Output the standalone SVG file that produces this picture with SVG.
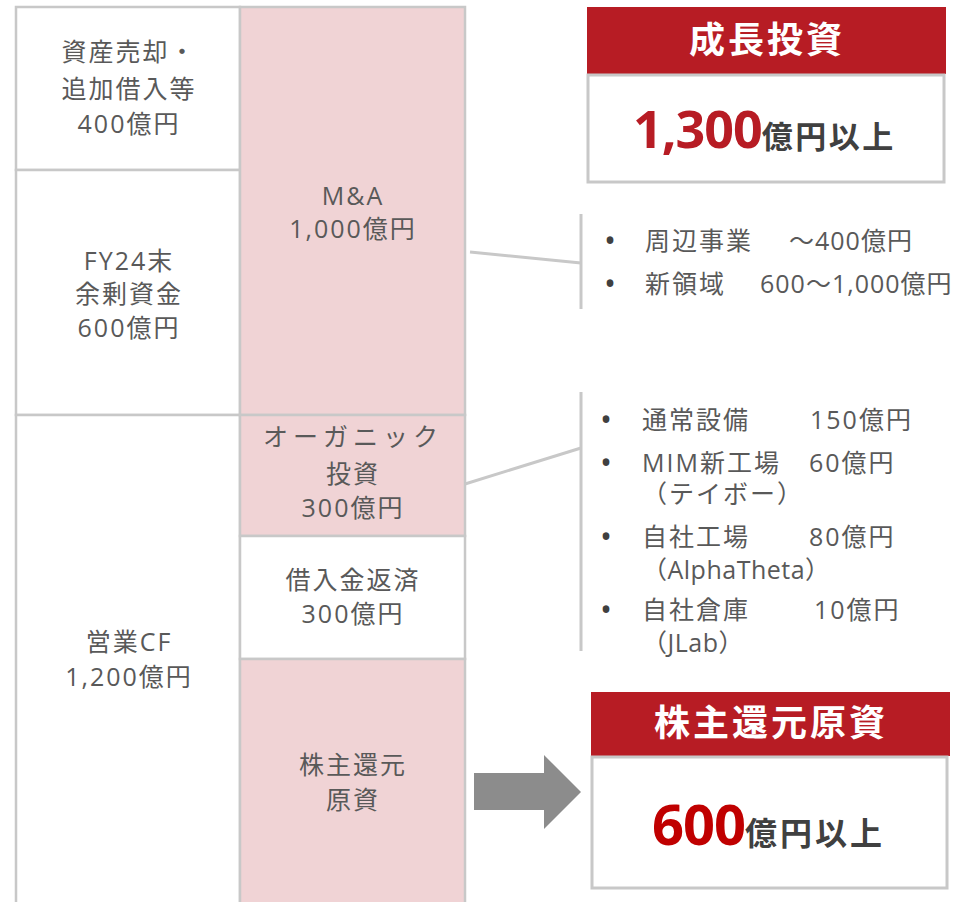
<svg xmlns="http://www.w3.org/2000/svg" width="975" height="902" viewBox="0 0 975 902">
<style>
.box{stroke:#c8c8c8;stroke-width:2.5}
.w{fill:#ffffff}
.p{fill:#f0d3d5}
.t{font-family:"Open Sans","Noto Sans CJK JP",sans-serif;font-size:25px;fill:#595959;text-anchor:middle;letter-spacing:2px}
.b{font-family:"Open Sans","Noto Sans CJK JP",sans-serif;font-size:25px;fill:#595959;letter-spacing:2px}
.dot{font-family:"Open Sans",sans-serif;font-size:32px;fill:#404040}
.hd{fill:#b71c24}
.ht{font-family:"Noto Sans CJK JP",sans-serif;font-weight:bold;font-size:36px;fill:#ffffff;text-anchor:middle;letter-spacing:3px}
.big{font-family:"Open Sans","Noto Sans CJK JP",sans-serif;font-weight:bold}
.line{stroke:#c8c8c8;stroke-width:3;fill:none}
</style>
<rect width="975" height="902" fill="#ffffff"/>
<g id="n-asset">
<rect class="box w" x="16" y="7" width="224" height="163"/>
<text class="t" x="129" y="61">資産売却・</text>
<text class="t" x="129" y="98">追加借入等</text>
<text class="t" x="129" y="133">400億円</text>
</g>
<g id="n-fy24">
<rect class="box w" x="16" y="170" width="224" height="245"/>
<text class="t" x="129" y="270">FY24末</text>
<text class="t" x="129" y="303">余剰資金</text>
<text class="t" x="129" y="337">600億円</text>
</g>
<g id="n-opcf">
<rect class="box w" x="16" y="415" width="224" height="500"/>
<text class="t" x="129" y="651">営業CF</text>
<text class="t" x="129" y="686">1,200億円</text>
</g>
<g id="n-ma">
<rect class="box p" x="240" y="7" width="225" height="408"/>
<text class="t" x="353" y="205">M&amp;A</text>
<text class="t" x="353" y="238">1,000億円</text>
</g>
<g id="n-organic">
<rect class="box p" x="240" y="415" width="225" height="121"/>
<text class="t" x="353" y="446" style="letter-spacing:5px">オーガニック</text>
<text class="t" x="353" y="483">投資</text>
<text class="t" x="353" y="517">300億円</text>
</g>
<g id="n-repay">
<rect class="box w" x="240" y="536" width="225" height="123"/>
<text class="t" x="353" y="589">借入金返済</text>
<text class="t" x="353" y="623">300億円</text>
</g>
<g id="n-return">
<rect class="box p" x="240" y="659" width="225" height="256"/>
<text class="t" x="353" y="774">株主還元</text>
<text class="t" x="353" y="809">原資</text>
</g>
<g id="n-growth">
<rect class="hd" x="587" y="7" width="359" height="67"/>
<text class="ht" x="767" y="53">成長投資</text>
<rect x="588" y="75" width="356" height="107" fill="#ffffff" stroke="#c8c8c8" stroke-width="3"/>
<text x="633" y="148" class="big"><tspan font-size="52" fill="#b71c24" letter-spacing="-1">1,300</tspan><tspan font-size="31" fill="#404040" letter-spacing="2.5" font-family="Noto Sans CJK JP, sans-serif">億円以上</tspan></text>
</g>
<g id="n-ma-detail">
<text class="dot" x="604" y="252">•</text>
<text class="b" x="645" y="250">周辺事業</text>
<text class="b" x="789" y="250" style="letter-spacing:1px">～400億円</text>
<text class="dot" x="604" y="295">•</text>
<text class="b" x="645" y="293">新領域</text>
<text class="b" x="760" y="293" style="letter-spacing:1px">600～1,000億円</text>
</g>
<g id="n-organic-detail">
<text class="dot" x="600" y="431">•</text>
<text class="b" x="642" y="429">通常設備</text>
<text class="b" x="810" y="429">150億円</text>
<text class="dot" x="600" y="474">•</text>
<text class="b" x="642" y="472">MIM新工場</text>
<text class="b" x="809" y="472">60億円</text>
<text class="b" x="642" y="503">（テイボー）</text>
<text class="dot" x="600" y="548">•</text>
<text class="b" x="642" y="546">自社工場</text>
<text class="b" x="809" y="546">80億円</text>
<text class="b" x="642" y="579" style="letter-spacing:0.5px">（AlphaTheta）</text>
<text class="dot" x="600" y="621">•</text>
<text class="b" x="642" y="619">自社倉庫</text>
<text class="b" x="814" y="619">10億円</text>
<text class="b" x="642" y="652" style="letter-spacing:0.5px">（JLab）</text>
</g>
<g id="n-shareholder">
<rect class="hd" x="591" y="692" width="359" height="64"/>
<text class="ht" x="771" y="736">株主還元原資</text>
<rect x="592" y="757" width="355" height="131" fill="#ffffff" stroke="#c8c8c8" stroke-width="3"/>
<text x="652" y="845" class="big"><tspan font-size="56" fill="#c00000" letter-spacing="-1">600</tspan><tspan font-size="32" fill="#404040" letter-spacing="3" font-family="Noto Sans CJK JP, sans-serif">億円以上</tspan></text>
</g>
<g id="connectors">
<polyline class="line" points="470,252 581,263"/>
<line class="line" x1="581" y1="214" x2="581" y2="309"/>
<polyline class="line" points="465,484 581,448"/>
<line class="line" x1="581" y1="392" x2="581" y2="651"/>
<polygon points="474,773 544,773 544,755 581,792 544,829 544,810 474,810" fill="#8c8c8c"/>
</g>
</svg>
